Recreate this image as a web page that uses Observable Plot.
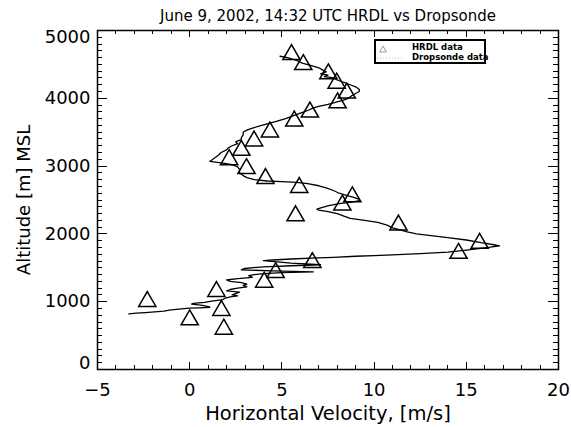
<!DOCTYPE html>
<html><head><meta charset="utf-8">
<script src="https://cdn.jsdelivr.net/npm/d3@7"></script>
<script src="https://cdn.jsdelivr.net/npm/@observablehq/plot@0.6"></script>
<style>body{margin:0;background:#fff;font-family:"DejaVu Sans",sans-serif;}</style>
</head><body><div id="chart"></div>
<script>
// HRDL lidar data (triangles)
const hrdlVelocity = [5.52,6.16,7.52,7.97,8.52,8.02,6.52,5.67,4.35,3.49,2.80,2.14,3.08,4.11,5.94,8.82,8.28,
  5.74,11.32,15.72,14.58,6.65,4.66,4.04,1.45,-2.30,1.72,0.00,1.85];
const hrdlAltitude = [4681,4534,4397,4260,4113,3970,3834,3701,3540,3407,3269,3132,3000,2853,2721,2583,2461,
  2304,2167,1897,1750,1613,1466,1324,1187,1040,907,769,632];

// Dropsonde profile (line), top to bottom
const sondeVelocity = [4.9,5.3,5.8,6.1,6.5,7.0,7.2,7.4,7.1,7.5,7.3,7.8,8.0,8.4,8.7,9.0,9.2,9.2,9.0,8.8,8.6,8.3,7.9,7.5,7.0,6.7,6.4,6.0,5.6,5.2,4.7,4.3,3.9,3.4,3.1,2.9,2.9,2.8,2.8,2.5,2.6,2.3,2.1,2.0,1.7,1.55,1.4,1.2,1.1,1.5,1.9,2.3,2.6,2.7,2.7,2.9,3.1,3.5,4.2,5.0,5.8,6.4,7.0,7.4,7.8,8.1,8.5,8.9,9.2,9.2,8.8,8.2,7.6,7.2,6.9,7.0,7.5,8.0,8.4,8.7,9.5,10.2,10.7,11.0,11.4,11.8,12.3,13.2,14.1,15.0,15.8,16.5,16.8,16.3,15.9,15.0,14.0,12.5,11.0,10.0,9.0,7.8,6.9,5.5,4.5,4.0,5.5,7.1,5.5,4.0,3.0,2.8,4.5,6.7,5.0,4.0,3.5,3.2,3.4,2.6,2.0,2.2,2.8,3.1,2.9,3.1,2.6,2.2,2.0,2.7,2.5,2.3,2.6,2.2,1.9,1.8,1.2,0.8,0.2,0.1,0.6,0.9,1.1,0.5,0.0,-0.6,-1.1,-1.4,-1.9,-2.4,-2.9,-3.3];
const sondeAltitude = [4620,4600,4560,4520,4490,4450,4420,4390,4360,4340,4320,4300,4270,4230,4200,4170,4130,4100,4070,4040,4000,3970,3940,3910,3880,3860,3820,3780,3740,3700,3660,3630,3600,3560,3530,3500,3460,3420,3390,3360,3330,3300,3270,3240,3200,3160,3130,3090,3070,3055,3040,3020,2990,2950,2900,2860,2830,2800,2780,2770,2760,2740,2710,2680,2640,2600,2570,2540,2510,2490,2470,2450,2420,2390,2365,2350,2330,2300,2260,2230,2200,2170,2130,2090,2060,2030,2000,1970,1940,1910,1870,1840,1825,1805,1790,1760,1730,1710,1690,1680,1670,1655,1645,1630,1615,1605,1570,1545,1530,1515,1490,1470,1455,1440,1430,1415,1400,1385,1360,1340,1320,1300,1280,1260,1240,1220,1200,1180,1160,1140,1120,1100,1085,1070,1050,1030,1010,990,975,965,950,935,918,910,905,890,875,860,850,840,830,820];

const xTicks = [-5,0,5,10,15,20];
const yTicks = [0,1000,2000,3000,4000,5000];
const xMinor = d3.range(-5, 21, 1);
const yMinor = d3.range(0, 5001, 100);

const titleText = "June 9, 2002, 14:32 UTC HRDL vs Dropsonde";
const xLabel = "Horizontal Velocity, [m/s]";
const yLabel = "Altitude [m] MSL";
const legendLabels = ["HRDL data", "Dropsonde data"];

const hrdl = hrdlVelocity.map((v, i) => ({v, alt: hrdlAltitude[i]}));
const sonde = sondeVelocity.map((v, i) => ({v, alt: sondeAltitude[i]}));

const W = 571, H = 427, mL = 97, mR = 13, mT = 30, mB = 58;
const fw = W - mL - mR, fh = H - mT - mB;
const ink = "#000";
const yMid = yTicks.slice(1, -1), yLow = yTicks.slice(0, 1), yHigh = yTicks.slice(-1);

const plot = Plot.plot({
  width: W, height: H,
  marginLeft: mL, marginRight: mR, marginTop: mT, marginBottom: mB,
  style: {fontFamily: "DejaVu Sans, sans-serif", fontSize: "18px", color: ink, background: "#fff"},
  x: {domain: [-5, 20]},
  y: {domain: [0, 5000]},
  marks: [
    Plot.frame({stroke: ink, strokeWidth: 1.5}),
    Plot.axisX(xTicks, {anchor: "bottom", tickSize: 0, tickPadding: 14, fontSize: 18, label: null}),
    Plot.axisX({anchor: "bottom", ticks: [], tickSize: 0, fontSize: 19.5, label: xLabel, labelAnchor: "center", labelArrow: "none", labelOffset: 50}),
    Plot.axisY(yMid, {anchor: "left", tickSize: 0, tickPadding: 7, fontSize: 18, tickFormat: "d", label: yLabel, labelAnchor: "center", labelArrow: "none", labelOffset: 80}),
    Plot.axisY(yLow, {anchor: "left", tickSize: 0, tickPadding: 7, fontSize: 18, tickFormat: "d", label: null, dy: -6}),
    Plot.axisY(yHigh, {anchor: "left", tickSize: 0, tickPadding: 7, fontSize: 18, tickFormat: "d", label: null, dy: 7}),
    Plot.line(sonde, {x: "v", y: "alt", stroke: ink, strokeWidth: 1.3}),
    Plot.dot(hrdl, {x: "v", y: "alt", symbol: "triangle", r: 6.4, stroke: ink, strokeWidth: 1.5, fill: "none", dy: 2.5}),
    Plot.text([titleText], {frameAnchor: "top", dy: -20, fontSize: 15, fill: ink})
  ]
});
document.getElementById("chart").appendChild(plot);

const svg = d3.select(plot);
// inward ticks on all four sides, placed with the plot's own scales
const sx = plot.scale("x"), sy = plot.scale("y");
const ticks = svg.append("g").attr("stroke", ink).attr("stroke-width", 1.3)
  .attr("shape-rendering", "crispEdges").attr("fill", "none");
const x0 = mL, x1 = W - mR, y0 = mT, y1 = H - mB;
const path = d3.path();
xMinor.forEach(v => {
  const len = xTicks.includes(v) ? 7 : 4, px = Math.round(sx.apply(v)) + 0.5;
  path.moveTo(px, y1); path.lineTo(px, y1 - len);
  path.moveTo(px, y0); path.lineTo(px, y0 + len);
});
yMinor.forEach(v => {
  const len = yTicks.includes(v) ? 10 : 5, py = Math.round(sy.apply(v)) + 0.5;
  path.moveTo(x0, py); path.lineTo(x0 + len, py);
  path.moveTo(x1, py); path.lineTo(x1 - len, py);
});
ticks.append("path").attr("d", path.toString());

// legend box (inside the frame, top right)
const g = svg.append("g").attr("text-anchor", "start");
const lx = mL + fw - 183, ly = mT + 10;
g.append("rect").attr("x", lx).attr("y", ly).attr("width", 110).attr("height", 23)
  .attr("fill", "#fff").attr("stroke", ink).attr("stroke-width", 2);
g.append("path").attr("d", d3.symbol(d3.symbolTriangle, 20)()).attr("transform", `translate(${lx + 8},${ly + 10})`)
  .attr("fill", "none").attr("stroke", "#999");
g.append("line").attr("x1", lx + 2).attr("x2", lx + 28).attr("y1", ly + 18).attr("y2", ly + 18)
  .attr("stroke", "#bbb").attr("stroke-dasharray", "1,2");
legendLabels.forEach((t, i) => {
  g.append("text").attr("x", lx + 37).attr("y", ly + 10 + i * 9.5).attr("font-size", 8.5)
    .attr("text-anchor", "start").attr("font-weight", "bold").attr("fill", ink).text(t);
});
</script>
</body></html>
